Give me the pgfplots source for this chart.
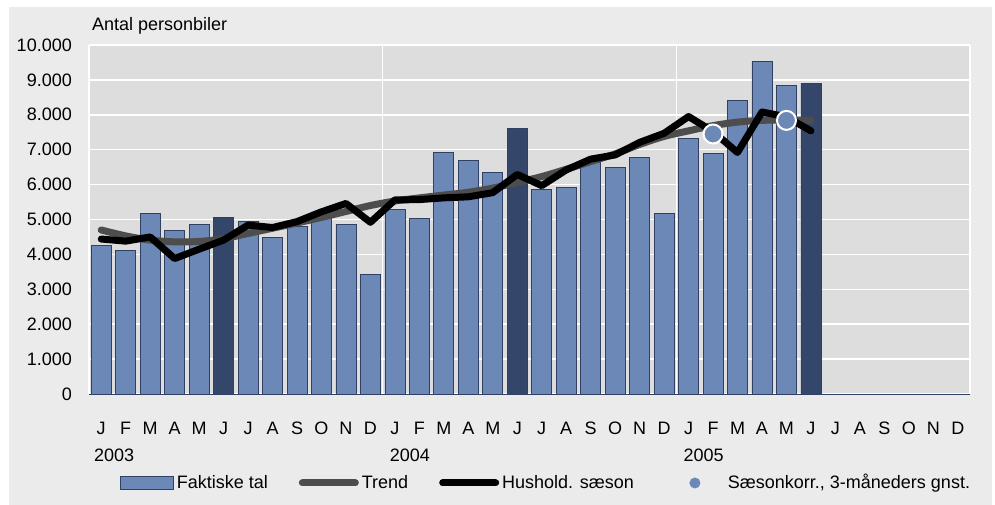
\documentclass[border=0pt]{standalone}
\usepackage{pgfplots}
\pgfplotsset{compat=1.18}
\usepackage{fontspec}
\setmainfont{Liberation Sans}
\definecolor{barblue}{RGB}{107,136,182}
\definecolor{bardark}{RGB}{52,70,106}
\definecolor{baredge}{RGB}{48,64,98}
\definecolor{plotbg}{RGB}{221,221,221}
\definecolor{outerbg}{RGB}{235,235,235}
\definecolor{trendgray}{RGB}{77,77,77}
\begin{document}
\fontsize{18bp}{21bp}\selectfont
\begin{tikzpicture}
\useasboundingbox (0,0) rectangle (995bp,505bp);
\fill[white] (0,0) rectangle (995bp,505bp);
\fill[outerbg] (9bp,0bp) rectangle (992bp,498bp);
\begin{axis}[
  at={(89bp,111bp)}, anchor=south west,
  scale only axis, width=881bp, height=349bp,
  xmin=-0.5, xmax=35.5, ymin=0, ymax=10000,
  clip mode=individual,
  axis background/.style={fill=plotbg},
  separate axis lines,
  axis x line*=bottom, axis y line*=box,
  x axis line style={draw=baredge, line width=1bp, -},
  y axis line style={draw=white, line width=1.5bp, -},
  ytick={0,1000,...,10000},
  scaled y ticks=false,
  ymajorgrids,
  major grid style={white, line width=1.5bp},
  xtick={0,...,35},
  xticklabels={J,F,M,A,M,J,J,A,S,O,N,D,J,F,M,A,M,J,J,A,S,O,N,D,J,F,M,A,M,J,J,A,S,O,N,D},
  extra x ticks={11.5,23.5},
  extra x tick labels={},
  extra x tick style={grid=major},
  major tick length=0pt,
  tick style={draw=none},
  yticklabel style={/pgf/number format/1000 sep={.}, /pgf/number format/assume math mode=true, xshift=-11bp},
  xticklabel style={yshift=-22bp},
  legend columns=4,
  legend cell align=left,
  legend style={draw=none, fill=none, inner sep=0pt, outer sep=0pt,
    at={(axis description cs:0.0352,-0.255)}, anchor=west,
    nodes={inner sep=0pt},
    /tikz/every odd column/.style={column sep=3bp},
    /tikz/every even column/.style={column sep=31bp}},
]
% Faktiske tal (ordinary months)
\addplot[ybar, bar width=20bp, fill=barblue, draw=baredge, line width=0.8bp,
  legend image code/.code={\draw[fill=barblue, draw=baredge, line width=0.8bp] (0bp,-6.5bp) rectangle (53bp,6.5bp);}]
  coordinates {
  (0,4250) (1,4120) (2,5170) (3,4680) (4,4850) (6,4940) (7,4480) (8,4810) (9,5150) (10,4860) (11,3430)
  (12,5300) (13,5030) (14,6920) (15,6690) (16,6350) (18,5870) (19,5920) (20,6650) (21,6490) (22,6780) (23,5170)
  (24,7310) (25,6890) (26,8410) (27,9520) (28,8830)
  };
\addlegendentry{Faktiske tal}
% June bars (dark)
\addplot[ybar, bar width=20bp, fill=bardark, draw=baredge, line width=0.8bp, forget plot]
  coordinates {(5,5060) (17,7610) (29,8900)};
% Trend
\addplot[trendgray, line width=7bp, line cap=round, smooth, mark=none,
  legend image code/.code={\path[draw=none, fill=none] (0bp,-7bp) rectangle (60bp,7bp); \draw[trendgray, line width=7bp, line cap=round] (3.5bp,0) -- (56.5bp,0);}]
  coordinates {
  (0,4700) (1,4530) (2,4410) (3,4360) (4,4370) (5,4450) (6,4600) (7,4750) (8,4900) (9,5060) (10,5230) (11,5400)
  (12,5530) (13,5620) (14,5700) (15,5780) (16,5900) (17,6060) (18,6230) (19,6440) (20,6660) (21,6880) (22,7150) (23,7380)
  (24,7540) (25,7690) (26,7790) (27,7840) (28,7850) (29,7840)
  };
\addlegendentry{Trend}
% Hushold. saeson
\addplot[black, line width=7bp, line cap=round, line join=round, mark=none,
  legend image code/.code={\path[draw=none, fill=none] (0bp,-7bp) rectangle (60bp,7bp); \draw[black, line width=7bp, line cap=round] (3.5bp,0) -- (56.5bp,0);}]
  coordinates {
  (0,4440) (1,4380) (2,4500) (3,3880) (4,4150) (5,4410) (6,4840) (7,4770) (8,4940) (9,5220) (10,5460) (11,4920)
  (12,5560) (13,5570) (14,5620) (15,5650) (16,5770) (17,6290) (18,5970) (19,6420) (20,6730) (21,6850) (22,7210) (23,7470)
  (24,7950) (25,7520) (26,6920) (27,8080) (28,7940) (29,7540)
  };
\addlegendentry{Hushold. sæson}
% Saesonkorr.
\addplot[only marks, mark=*, mark size=9.5bp, mark options={fill=barblue, draw=white, line width=2bp},
  legend image code/.code={\path[draw=none, fill=none] (0bp,-7bp) rectangle (60bp,7bp); \fill[barblue, draw=none] (30bp,0) circle (5.5bp);}]
  coordinates {(25,7450) (28,7840)};
\addlegendentry{Sæsonkorr., 3-måneders gnst.}
% labels
\node[anchor=base west, inner sep=0pt] at (rel axis cs:0,1) [xshift=3bp, yshift=14bp] {Antal personbiler};
\node[anchor=west, inner sep=0pt] at (axis cs:-0.5,0) [xshift=5bp, yshift=-61bp] {2003};
\node[anchor=west, inner sep=0pt] at (axis cs:11.5,0) [xshift=7bp, yshift=-61bp] {2004};
\node[anchor=west, inner sep=0pt] at (axis cs:23.5,0) [xshift=7bp, yshift=-61bp] {2005};
\end{axis}
\end{tikzpicture}
\end{document}
